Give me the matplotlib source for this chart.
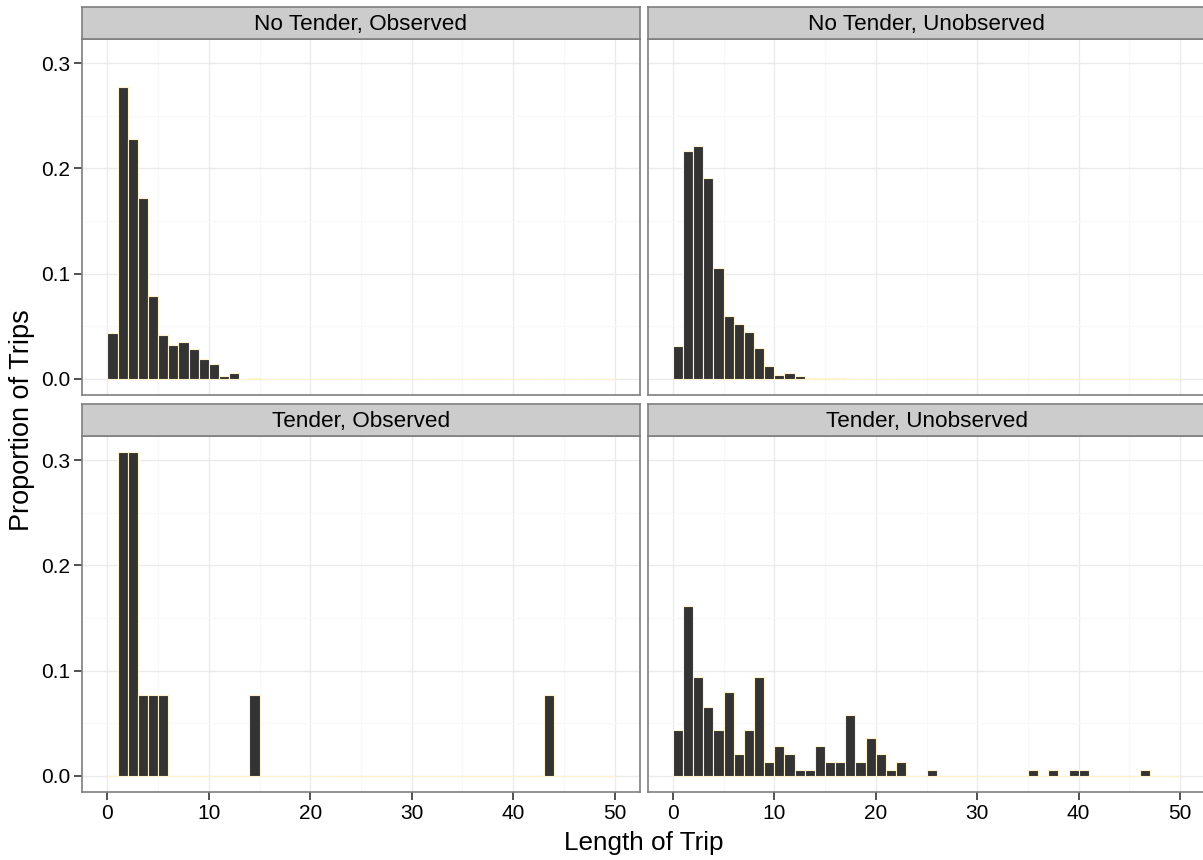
import matplotlib
matplotlib.use("Agg")
import matplotlib.pyplot as plt
import numpy as np

plt.rcParams['font.family'] = ['Liberation Sans', 'DejaVu Sans']

# ---- data (proportion of trips per 1-day bin, bins [k, k+1)) ----
n_bins = 50
panel_titles = ["No Tender, Observed", "No Tender, Unobserved",
                "Tender, Observed", "Tender, Unobserved"]

no_tender_observed = [0.044, 0.277, 0.228, 0.172, 0.079, 0.042, 0.032, 0.035,
                      0.028, 0.019, 0.0145, 0.0025, 0.0057, 0.0002, 0.0008, 0.0003]
no_tender_unobserved = [0.0315, 0.217, 0.221, 0.191, 0.105, 0.0596, 0.0517, 0.0448,
                        0.0293, 0.0123, 0.0038, 0.006, 0.0028, 0.0008, 0.0008,
                        0.0006, 0.0004]
tender_observed = {1: 0.3077, 2: 0.3077, 3: 0.0769, 4: 0.0769, 5: 0.0769,
                   14: 0.0769, 43: 0.0769}
tender_unobserved = [0.0434, 0.161, 0.0943, 0.065, 0.0434, 0.080, 0.0208, 0.0434,
                     0.0943, 0.0129, 0.0283, 0.0208, 0.0057, 0.0057, 0.0283, 0.0129,
                     0.0129, 0.0579, 0.0129, 0.0355, 0.0208, 0.0057, 0.0129, 0.0, 0.0,
                     0.006]
tender_unobserved_tail = {35: 0.006, 37: 0.006, 39: 0.006, 40: 0.006, 46: 0.006}

x_ticks = [0, 10, 20, 30, 40, 50]
y_ticks = [0.0, 0.1, 0.2, 0.3]
y_tick_labels = ["0.0", "0.1", "0.2", "0.3"]
x_label = "Length of Trip"
y_label = "Proportion of Trips"


def full(values, extra=None):
    arr = np.zeros(n_bins)
    if isinstance(values, dict):
        for k, v in values.items():
            arr[k] = v
    else:
        arr[:len(values)] = values
    if extra:
        for k, v in extra.items():
            arr[k] = v
    return arr


series = [full(no_tender_observed), full(no_tender_unobserved),
          full(tender_observed), full(tender_unobserved, tender_unobserved_tail)]
edges = np.arange(n_bins)

W, H = 1203, 860
fig = plt.figure(figsize=(W / 100, H / 100), dpi=100)
fig.patch.set_facecolor('white')


def px_axes(x0, y0, x1, y1):
    return fig.add_axes([x0 / W, 1 - y1 / H, (x1 - x0) / W, (y1 - y0) / H])


cols = [(82, 640), (647.5, 1205.5)]
rows = [(39, 395, 7, 39), (436, 792, 403.5, 436)]
border = '#7F7F7F'
ymax = max(s.max() for s in series)
ylim = (-0.05 * ymax, ymax * 1.05)

for i, (title, vals) in enumerate(zip(panel_titles, series)):
    r, c = divmod(i, 2)
    x0, x1 = cols[c]
    py0, py1, sy0, sy1 = rows[r]
    ax = px_axes(x0, py0, x1, py1)
    ax.set_facecolor('white')
    ax.set_xlim(-2.5, 52.5)
    ax.set_ylim(*ylim)
    ax.set_xticks(x_ticks)
    ax.set_xticks([5, 15, 25, 35, 45], minor=True)
    ax.set_yticks(y_ticks)
    ax.set_yticks([0.05, 0.15, 0.25], minor=True)
    ax.grid(which='major', color='#EBEBEB', linewidth=1.0)
    ax.grid(which='minor', color='#F8F8F8', linewidth=0.8)
    ax.set_axisbelow(True)
    ax.bar(edges, vals, width=1.0, align='edge', color='#333333',
           edgecolor='#FFF3CC', linewidth=0.8, zorder=3)
    for sp in ax.spines.values():
        sp.set_color(border)
        sp.set_linewidth(1.2)
    ax.tick_params(which='minor', length=0)
    ax.tick_params(which='major', length=5.5, width=1.2, color='#333333',
                   labelsize=15, labelcolor='black', pad=3)
    if c == 0:
        ax.set_yticklabels(y_tick_labels)
    else:
        ax.tick_params(axis='y', which='major', left=False, labelleft=False)
    if r == 1:
        ax.set_xticklabels([str(t) for t in x_ticks])
    else:
        ax.tick_params(axis='x', which='major', bottom=False, labelbottom=False)

    sax = px_axes(x0, sy0, x1, sy1)
    sax.set_facecolor('#CCCCCC')
    sax.set_xticks([])
    sax.set_yticks([])
    for sp in sax.spines.values():
        sp.set_color(border)
        sp.set_linewidth(1.2)
    sax.text(0.5, 0.45, title, transform=sax.transAxes, ha='center', va='center',
             fontsize=16.2, color='black')

fig.text(644 / W, 1 - 843 / H, x_label, ha='center', va='center', fontsize=18.8)
fig.text(22 / W, 1 - 420 / H, y_label, ha='center', va='center', fontsize=19.5,
         rotation=90)

fig.savefig('out.png', dpi=100, facecolor='white')
